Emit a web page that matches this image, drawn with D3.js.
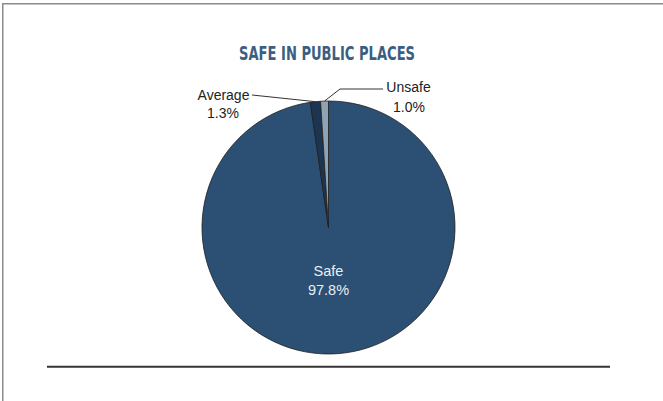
<!DOCTYPE html>
<html>
<head>
<meta charset="utf-8">
<script src="https://cdn.jsdelivr.net/npm/d3@7"></script>
<style>
  html, body { margin: 0; padding: 0; background: #fff; }
  svg { display: block; }
</style>
</head>
<body>
<svg id="chart" width="663" height="401"></svg>
<script>
// ---- data ----
const categories = ["Safe", "Average", "Unsafe"];
const values = [97.8, 1.3, 1.0];
const valueLabels = ["97.8%", "1.3%", "1.0%"];
const title = "SAFE IN PUBLIC PLACES";

// ---- styling / layout ----
const colors = ["#2b5074", "#1d3550", "#8da4b7"];
const W = 663, H = 401;
const cx = 328.5, cy = 227.5, R = 126.5;

const svg = d3.select("#chart");

// frame lines (left & top)
svg.append("line").attr("x1", 2.75).attr("y1", 3).attr("x2", 2.75).attr("y2", H)
  .attr("stroke", "#8c8c8c").attr("stroke-width", 1.5);
svg.append("line").attr("x1", 2).attr("y1", 3.75).attr("x2", W).attr("y2", 3.75)
  .attr("stroke", "#8c8c8c").attr("stroke-width", 1.5);

// title (condensed, slightly stretched vertically)
svg.append("text")
  .attr("transform", "translate(327,60) scale(1,1.08)")
  .attr("text-anchor", "middle")
  .attr("font-family", "'DejaVu Sans Condensed', 'Liberation Sans Narrow', sans-serif")
  .attr("font-weight", "bold")
  .attr("font-size", 18.5)
  .attr("textLength", 176)
  .attr("lengthAdjust", "spacingAndGlyphs")
  .attr("fill", "#3b5f82")
  .text(title);

// pie
const data = categories.map((c, i) => ({ cat: c, value: values[i], label: valueLabels[i], color: colors[i] }));
const pie = d3.pie().sort(null).value(d => d.value).startAngle(0).endAngle(2 * Math.PI);
const arcs = pie(data);
const arc = d3.arc().innerRadius(0).outerRadius(R);

const g = svg.append("g").attr("transform", `translate(${cx},${cy})`);
g.selectAll("path.slice").data(arcs).enter().append("path")
  .attr("class", "slice")
  .attr("d", arc)
  .attr("fill", d => d.data.color)
  .attr("stroke", "#1e1e1e")
  .attr("stroke-width", 0.8);

// helper: point on outer edge at mid angle
function edgePoint(a) {
  const m = (a.startAngle + a.endAngle) / 2;
  return [cx + R * Math.sin(m), cy - R * Math.cos(m)];
}

const font = "'Liberation Sans', Arial, sans-serif";

// Safe label inside
const safeArc = arcs[0];
const safeX = cx, safeY = 276;
svg.append("text").attr("x", safeX).attr("y", safeY).attr("text-anchor", "middle")
  .attr("font-family", font).attr("font-size", 14.5).attr("fill", "#e8eef4")
  .text(safeArc.data.cat);
svg.append("text").attr("x", safeX).attr("y", safeY + 19).attr("text-anchor", "middle")
  .attr("font-family", font).attr("font-size", 14.5).attr("fill", "#e8eef4")
  .text(safeArc.data.label);

// Average label (left)
const avg = arcs[1];
const pAvg = edgePoint(avg);
svg.append("polyline")
  .attr("points", [[252, 95], pAvg].map(p => p.join(",")).join(" "))
  .attr("fill", "none").attr("stroke", "#333").attr("stroke-width", 1);
svg.append("text").attr("x", 223.5).attr("y", 100).attr("text-anchor", "middle")
  .attr("font-family", font).attr("font-size", 14).attr("fill", "#222")
  .text(avg.data.cat);
svg.append("text").attr("x", 223).attr("y", 118).attr("text-anchor", "middle")
  .attr("font-family", font).attr("font-size", 14).attr("fill", "#222")
  .text(avg.data.label);

// Unsafe label (right)
const uns = arcs[2];
const pUns = edgePoint(uns);
svg.append("polyline")
  .attr("points", [pUns, [340, 89], [383, 89]].map(p => p.join(",")).join(" "))
  .attr("fill", "none").attr("stroke", "#333").attr("stroke-width", 1);
svg.append("text").attr("x", 408.5).attr("y", 92).attr("text-anchor", "middle")
  .attr("font-family", font).attr("font-size", 14).attr("fill", "#222")
  .text(uns.data.cat);
svg.append("text").attr("x", 409).attr("y", 111.5).attr("text-anchor", "middle")
  .attr("font-family", font).attr("font-size", 14).attr("fill", "#222")
  .text(uns.data.label);

// bottom rule
svg.append("line").attr("x1", 47).attr("y1", 366.7).attr("x2", 610).attr("y2", 366.7)
  .attr("stroke", "#333").attr("stroke-width", 2);
</script>
</body>
</html>
